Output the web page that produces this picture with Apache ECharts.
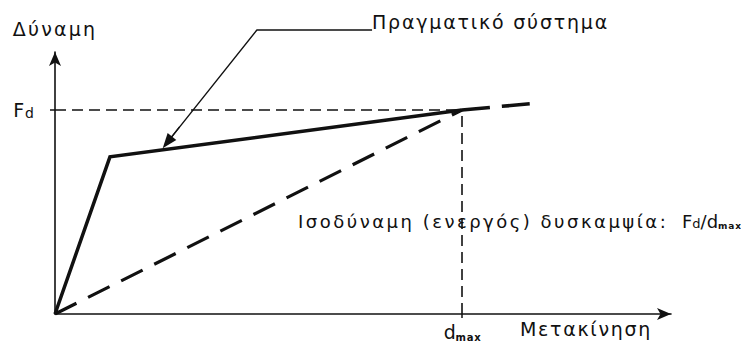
<!DOCTYPE html>
<html>
<head>
<meta charset="utf-8">
<script src="https://cdn.jsdelivr.net/npm/echarts@6/dist/echarts.min.js"></script>
<style>
  html, body { margin: 0; padding: 0; background: #fff; }
  #chart { width: 741px; height: 345px; }
</style>
</head>
<body>
<div id="chart"></div>
<script>
// Normalised quantities: Fd = 1, dmax = 1
const xAxisMax = 1.5135;
const yAxisMax = 1.284;
const forceTicks = [1];          // Fd
const dispTicks = [1];           // dmax
const realSystem = [[0, 0], [0.135, 0.77], [1, 1]];
const realExtension = [[1, 1], [1.167, 1.03]];
const secantStiffness = [[0, 0], [1, 1]];
const fdGuide = [[0, 1], [1, 1]];
const dmaxGuide = [[1, 0], [1, 1]];
const leaderLine = [[0.276, 0.841], [0.496, 1.392], [0.779, 1.392]];
const leaderArrow = [[0.306, 0.917], [0.276, 0.841]];

const FONT = '"DejaVu Sans", sans-serif';
const INK = '#111';

// the reference typography is widely tracked
const tracking = {
  'Δύναμη': 2.2,
  'Πραγματικό σύστημα': 1.8,
  'Μετακίνηση': 1.7,
  'Ισοδύναμη (ενεργός) δυσκαμψία:': 2.5,
  'max': 0.8
};

const chart = echarts.init(document.getElementById('chart'), null, { renderer: 'svg' });

const dashedThin = { color: INK, width: 1.6, type: [11, 6] };

chart.setOption({
  animation: false,
  backgroundColor: '#fff',
  grid: { left: 55, right: 70, top: 52, bottom: 31 },
  xAxis: {
    type: 'value', min: 0, max: xAxisMax,
    axisLine: { show: true, lineStyle: { color: INK, width: 1.6 }, symbol: ['none', 'arrow'], symbolSize: [9, 14] },
    axisTick: { show: true, customValues: dispTicks, length: 4, lineStyle: { color: INK, width: 1.5 } },
    splitLine: { show: false },
    axisLabel: {
      customValues: dispTicks, margin: 8,
      formatter: () => '{d|d}{m|max}',
      rich: {
        d: { fontFamily: FONT, fontSize: 19, color: INK },
        m: { fontFamily: FONT, fontSize: 10, color: INK, fontWeight: 'bold', padding: [10, 0, 0, 1] }
      }
    }
  },
  yAxis: {
    type: 'value', min: 0, max: yAxisMax,
    name: 'Δύναμη', nameLocation: 'end', nameGap: 14,
    nameTextStyle: { fontFamily: FONT, fontSize: 19, color: INK },
    axisLine: { show: true, lineStyle: { color: INK, width: 1.6 }, symbol: ['none', 'arrow'], symbolSize: [9, 14] },
    axisTick: { show: true, customValues: forceTicks, length: 5, lineStyle: { color: INK, width: 1.5 } },
    splitLine: { show: false },
    axisLabel: {
      customValues: forceTicks, margin: 21,
      formatter: () => '{f|F}{d|d}',
      rich: {
        f: { fontFamily: FONT, fontSize: 19, color: INK },
        d: { fontFamily: FONT, fontSize: 14, color: INK, padding: [6, 0, 0, 1] }
      }
    }
  },
  series: [
    { type: 'line', data: fdGuide, symbol: 'none', lineStyle: dashedThin, z: 2 },
    { type: 'line', data: dmaxGuide, symbol: 'none', lineStyle: dashedThin, z: 2 },
    { type: 'line', data: secantStiffness, symbol: 'none', lineStyle: { color: INK, width: 3.2, type: [24, 13] }, z: 3 },
    { type: 'line', data: realExtension, symbol: 'none', lineStyle: { color: INK, width: 3.5, type: [28, 12] }, z: 3 },
    { type: 'line', data: realSystem, symbol: 'none', lineStyle: { color: INK, width: 3.5, join: 'miter' }, z: 4 },
    {
      type: 'line', data: leaderLine, symbol: 'none', clip: false,
      lineStyle: { color: INK, width: 1.4 }, z: 5,
      markLine: {
        silent: true, symbol: ['none', 'triangle'], symbolSize: [11, 15],
        label: { show: false },
        lineStyle: { color: INK, width: 1.4, type: 'solid' },
        data: [[{ coord: leaderArrow[0] }, { coord: leaderArrow[1] }]]
      }
    }
  ],
  graphic: [
    { type: 'text', left: 372, top: 12, style: { text: 'Πραγματικό σύστημα', font: '19px ' + FONT, fill: INK } },
    { type: 'text', left: 520, top: 319, style: { text: 'Μετακίνηση', font: '19px ' + FONT, fill: INK } },
    { type: 'text', left: 298, top: 212, style: { text: 'Ισοδύναμη (ενεργός) δυσκαμψία:', font: '18px ' + FONT, fill: INK } },
    {
      type: 'text', left: 682, top: 212,
      style: {
        text: '{f|F}{s|d}/d{m|max}',
        font: '18px ' + FONT, fill: INK,
        rich: {
          f: { fontFamily: FONT, fontSize: 18, color: INK },
          s: { fontFamily: FONT, fontSize: 13, color: INK, padding: [5, 0, 0, 0] },
          m: { fontFamily: FONT, fontSize: 9, color: INK, fontWeight: 'bold', padding: [9, 0, 0, 0] }
        }
      }
    }
  ]
});

function applyTracking() {
  document.querySelectorAll('#chart text').forEach(function (t) {
    const s = tracking[t.textContent];
    if (s) t.style.letterSpacing = s + 'px';
  });
}
applyTracking();
chart.on('finished', applyTracking);
</script>
</body>
</html>
